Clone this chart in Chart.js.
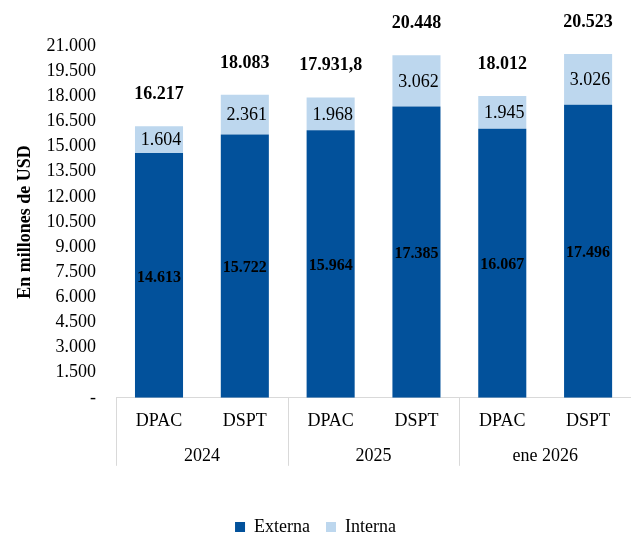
<!DOCTYPE html>
<html>
<head>
<meta charset="utf-8">
<script src="https://cdn.jsdelivr.net/npm/chart.js@4"></script>
<style>
  html, body { margin: 0; padding: 0; background: #fff; }
  #wrap { width: 631px; height: 536px; }
</style>
</head>
<body>
<div id="wrap"><canvas id="grafico" width="631" height="536"></canvas></div>
<script>
// datos
const categorias = ["DPAC", "DSPT", "DPAC", "DSPT", "DPAC", "DSPT"];
const grupos = ["2024", "2025", "ene 2026"];
const externa = [14613, 15722, 15964, 17385, 16067, 17496];
const interna = [1604, 2361, 1968, 3062, 1945, 3026];
const totales = ["16.217", "18.083", "17.931,8", "20.448", "18.012", "20.523"];

const FUENTE = '"Liberation Serif", "Times New Roman", serif';

function miles(v) {
    if (v === 0) return "-";
    return String(v).replace(/\B(?=(\d{3})+(?!\d))/g, ".");
}

// etiquetas dentro y encima de las barras
const etiquetas = {
    id: "etiquetas",
    afterDatasetsDraw(chart) {
        const ctx = chart.ctx;
        const ext = chart.getDatasetMeta(0).data;
        const int = chart.getDatasetMeta(1).data;
        ctx.save();
        ctx.textAlign = "center";
        ctx.textBaseline = "middle";
        ctx.fillStyle = "#000";
        ext.forEach(function (bar, i) {
            ctx.font = "bold 16px " + FUENTE;
            ctx.fillText(miles(externa[i]), bar.x, (bar.y + bar.base) / 2 + 2);
            const sup = int[i];
            ctx.font = "18px " + FUENTE;
            ctx.fillText(miles(interna[i]), sup.x + 2, (sup.y + sup.base) / 2 + 1);
            ctx.font = "bold 18px " + FUENTE;
            ctx.fillText(totales[i], sup.x, sup.y - 32);
        });
        ctx.restore();
    }
};

// líneas que separan los grupos del eje x
const separadores = {
    id: "separadores",
    afterDraw(chart) {
        const ctx = chart.ctx;
        const eje = chart.scales.x2;
        const y0 = chart.chartArea.bottom;
        const paso = eje.width / grupos.length;
        ctx.save();
        ctx.strokeStyle = "#d9d9d9";
        ctx.lineWidth = 1;
        ctx.beginPath();
        for (let k = 0; k < grupos.length; k++) {
            const px = Math.round(eje.left + k * paso) + 0.5;
            ctx.moveTo(px, y0);
            ctx.lineTo(px, y0 + 68);
        }
        ctx.stroke();
        ctx.restore();
    }
};

new Chart(document.getElementById("grafico"), {
    type: "bar",
    data: {
        labels: categorias,
        datasets: [{
            label: "Externa",
            data: externa,
            backgroundColor: "#02519B",
            xAxisID: "x",
            categoryPercentage: 1,
            barPercentage: 0.56
        }, {
            label: "Interna",
            data: interna,
            backgroundColor: "#BDD7EE",
            xAxisID: "x",
            categoryPercentage: 1,
            barPercentage: 0.56
        }]
    },
    options: {
        responsive: false,
        animation: false,
        devicePixelRatio: 1,
        layout: { padding: { top: 46, left: 0, right: 0, bottom: -10 } },
        plugins: {
            legend: {
                position: "bottom",
                labels: {
                    boxWidth: 10,
                    boxHeight: 10,
                    padding: 16,
                    color: "#000",
                    font: { family: FUENTE, size: 18 }
                }
            },
            tooltip: { enabled: false }
        },
        scales: {
            x: {
                stacked: true,
                weight: 0,
                offset: true,
                grid: { display: false, drawTicks: false },
                border: { display: true, color: "#d9d9d9" },
                ticks: {
                    padding: 13,
                    color: "#000",
                    maxRotation: 0,
                    autoSkip: false,
                    font: { family: FUENTE, size: 18 }
                }
            },
            x2: {
                type: "category",
                labels: grupos,
                position: "bottom",
                weight: 1,
                offset: true,
                grid: { display: false, drawTicks: false },
                border: { display: false },
                ticks: {
                    padding: 0,
                    color: "#000",
                    font: { family: FUENTE, size: 18 }
                },
                afterFit: function (scale) { scale.height += 35; }
            },
            y: {
                stacked: true,
                min: 0,
                max: 21000,
                grid: { display: false, drawTicks: false },
                border: { display: false },
                ticks: {
                    stepSize: 1500,
                    autoSkip: false,
                    padding: 20,
                    color: "#000",
                    font: { family: FUENTE, size: 18 },
                    callback: function (v) { return miles(v); }
                },
                title: {
                    display: true,
                    text: "En millones de USD",
                    color: "#000",
                    padding: { top: 15, bottom: -10 },
                    font: { family: FUENTE, size: 18, weight: "bold" }
                }
            }
        }
    },
    plugins: [etiquetas, separadores]
});
</script>
</body>
</html>
